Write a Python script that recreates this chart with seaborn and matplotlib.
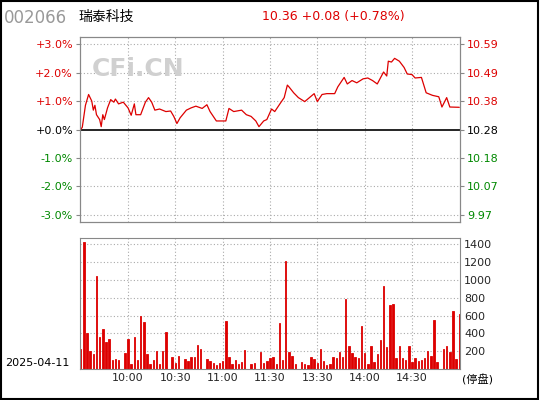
import matplotlib
matplotlib.use("Agg")
import matplotlib.pyplot as plt
import seaborn as sns
import numpy as np

sns.set_style("white")
plt.rcParams['font.family'] = ['DejaVu Sans', 'Noto Sans CJK SC']

price_min = [0,1,3,5,7,8,9,10,12,13,14,15,17,19,21,22,24,27,30,32,34,35,38,41,43,45,47,50,54,57,59,61,63,67,70,73,77,80,82,86,92,94,97,102,105,108,111,113,116,118,121,123,127,129,131,132,135,138,142,145,148,150,153,156,161,163,167,169,172,175,179,182,185,188,192,194,195,197,199,202,205,207,210,212,216,219,223,227,229,232,234,240]
price_pct = [0.0,0.08,0.85,1.23,1.0,0.68,0.85,0.52,0.35,0.1,0.52,0.35,0.76,1.05,0.96,1.07,0.9,0.96,0.76,0.5,0.9,0.52,0.52,0.96,1.12,0.96,0.68,0.72,0.63,0.65,0.46,0.21,0.41,0.68,0.76,0.82,0.74,0.87,0.63,0.3,0.3,0.74,0.63,0.68,0.52,0.46,0.3,0.1,0.3,0.35,0.72,0.63,0.96,1.12,1.56,1.5,1.29,1.12,0.98,1.12,1.26,0.98,1.23,1.26,1.26,1.5,1.83,1.6,1.72,1.64,1.78,1.81,1.72,1.6,2.02,1.88,2.4,2.37,2.5,2.4,2.18,1.95,1.93,1.81,1.83,1.29,1.2,1.15,0.79,1.12,0.79,0.78]

vol_values = [230,1420,400,200,170,1040,360,450,300,340,100,110,100,0,180,340,60,360,100,590,
              530,170,60,100,200,60,200,420,0,140,70,150,0,110,90,130,140,270,220,0,
              110,90,70,50,70,90,540,130,60,100,60,80,210,0,60,70,0,190,70,90,
              120,140,60,520,100,1210,190,150,60,0,80,60,40,130,110,70,230,90,50,60,
              140,120,190,130,780,260,180,140,120,480,180,60,260,80,170,330,930,250,720,730,
              120,260,120,100,260,80,120,90,100,120,200,150,550,80,0,230,260,190,650,110,620]
vol_min = list(range(0, 241, 2))

time_ticks = [30, 60, 90, 120, 150, 180, 210]
time_labels = ["10:00", "10:30", "11:00", "11:30", "13:30", "14:00", "14:30"]
pct_ticks = [3, 2, 1, 0, -1, -2, -3]
pct_labels = ["+3.0%", "+2.0%", "+1.0%", "+0.0%", "-1.0%", "-2.0%", "-3.0%"]
price_labels = ["10.59", "10.49", "10.38", "10.28", "10.18", "10.07", "9.97"]
vol_ticks = [200, 400, 600, 800, 1000, 1200, 1400]

RED = "#dd0000"; GREEN = "#008800"
fig = plt.figure(figsize=(5.4, 4.0), dpi=100)
fig.patches.append(plt.Rectangle((0.002, 0.003), 0.995, 0.994, transform=fig.transFigure,
                                 fill=False, edgecolor="black", lw=1.5))
ax = fig.add_axes([0.148, 0.445, 0.704, 0.4625])
axv = fig.add_axes([0.148, 0.0775, 0.704, 0.3275])

grid = dict(color="#aaaaaa", linestyle=(0, (1, 2)), lw=0.8)
for a in (ax, axv):
    for s in a.spines.values():
        s.set_color("#888888")
    for t in time_ticks:
        a.axvline(t, **grid, zorder=0)
    a.set_xlim(-0.5, 240.5)

for p in [3, 2, 1, -1, -2, -3]:
    ax.axhline(p, **grid, zorder=0)
ax.axhline(0, color="black", lw=1.2)
sns.lineplot(x=price_min, y=price_pct, ax=ax, color=RED, lw=0.9)
ax.set_ylim(-3.25, 3.25)
ax.set_yticks(pct_ticks)
cols = [RED, RED, RED, "black", GREEN, GREEN, GREEN]
ax.set_yticklabels(pct_labels, fontsize=8)
for lbl, c in zip(ax.get_yticklabels(), cols):
    lbl.set_color(c)
ax.set_xticks([])
ax.tick_params(length=3, pad=2, color="#888888")
axr = ax.twinx()
axr.set_ylim(ax.get_ylim())
axr.set_yticks(pct_ticks)
axr.set_yticklabels(price_labels, fontsize=8)
for lbl, c in zip(axr.get_yticklabels(), cols):
    lbl.set_color(c)
axr.tick_params(length=3, pad=2, color="#888888")
for s in axr.spines.values():
    s.set_color("#888888")
ax.set_xlabel(""); ax.set_ylabel("")
ax.text(0.03, 0.79, "CFi.CN", transform=ax.transAxes, fontsize=18, fontweight="bold",
        color="#d0d0d0", zorder=0)

axv.bar(vol_min, vol_values, width=0.9, color=RED, edgecolor=RED, linewidth=0.6)
for v in vol_ticks:
    axv.axhline(v, **grid, zorder=0)
axv.set_ylim(0, 1470)
axv.yaxis.tick_right()
axv.set_yticks(vol_ticks)
axv.set_yticklabels([str(v) for v in vol_ticks], fontsize=8)
axv.set_xticks(time_ticks)
axv.set_xticklabels(time_labels, fontsize=8)
axv.tick_params(length=0, pad=3)

fig.text(0.008, 0.955, "002066", fontsize=12, color="#999999", va="center")
fig.text(0.145, 0.958, "瑞泰科技", fontsize=10, color="black", va="center")
fig.text(0.485, 0.958, "10.36 +0.08 (+0.78%)", fontsize=9, color=RED, va="center")
fig.text(0.01, 0.092, "2025-04-11", fontsize=8, color="black", va="center")
fig.text(0.855, 0.05, "(停盘)", fontsize=8, color="black", va="center")

fig.savefig("out.png", dpi=100)
